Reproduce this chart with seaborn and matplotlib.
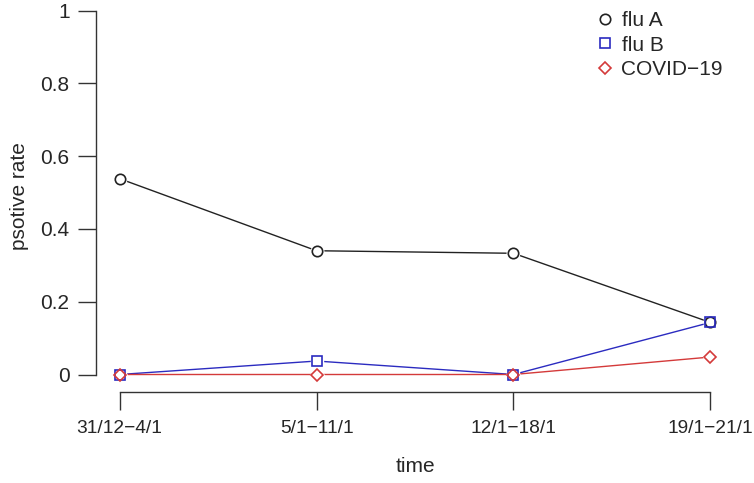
import matplotlib
matplotlib.use("Agg")
import matplotlib.pyplot as plt
from matplotlib.lines import Line2D
import numpy as np
import pandas as pd
import seaborn as sns

# weekly positive rates
periods = ["31/12\u22124/1", "5/1\u221211/1", "12/1\u221218/1", "19/1\u221221/1"]
flu_a = [0.538, 0.340, 0.333, 0.143]
flu_b = [0.0, 0.037, 0.0, 0.143]
covid = [0.0, 0.0, 0.0, 0.048]

names = ["flu A", "flu B", "COVID\u221219"]
colors = {"flu A": "#222222", "flu B": "#2b2bc0", "COVID\u221219": "#d43a3a"}
markers = {"flu A": "o", "flu B": "s", "COVID\u221219": "D"}
msize = {"flu A": 7.5, "flu B": 6.5, "COVID\u221219": 6.0}

rows = []
for name, vals in zip(names, [flu_a, flu_b, covid]):
    for i, v in enumerate(vals):
        rows.append({"x": i + 1, "rate": v, "virus": name})
df = pd.DataFrame(rows)

sns.set_style("ticks")
plt.rcParams["font.family"] = ["Liberation Sans", "DejaVu Sans"]
fs = 15

fig = plt.figure(figsize=(7.54, 4.83), dpi=100)
W, H = 754, 483
ax = fig.add_axes([96 / W, (H - 392) / H, (734 - 96) / W, 392 / H])

sns.lineplot(data=df, x="x", y="rate", hue="virus", palette=colors,
             linewidth=1.0, legend=False, ax=ax, zorder=1)

# white fill to give the line gaps, then hollow outlines on top
for name in names:
    d = df[df["virus"] == name]
    ax.plot(d["x"], d["rate"], linestyle="none", marker=markers[name],
            markersize=msize[name] + 1.5, markerfacecolor="white",
            markeredgecolor="white", zorder=2)
for name in names:
    d = df[df["virus"] == name]
    ax.plot(d["x"], d["rate"], linestyle="none", marker=markers[name],
            markersize=msize[name], markerfacecolor="none",
            markeredgecolor=colors[name], markeredgewidth=1.2, zorder=3)

ax.set_xlim(0.88, 4.12)
ax.set_ylim(-17.5 / 364, 1 + 10.5 / 364)
ax.set_xticks([1, 2, 3, 4])
ax.set_xticklabels(periods, fontsize=13.8)
ax.set_yticks([0, 0.2, 0.4, 0.6, 0.8, 1.0])
ax.set_yticklabels(["0", "0.2", "0.4", "0.6", "0.8", "1"], fontsize=fs)
ax.tick_params(axis="both", length=13, width=1, color="#333333")
ax.tick_params(axis="y", pad=6)
ax.tick_params(axis="x", pad=7)

for s in ["top", "right"]:
    ax.spines[s].set_visible(False)
ax.spines["left"].set_bounds(0, 1)
ax.spines["bottom"].set_bounds(1, 4)
for s in ["left", "bottom"]:
    ax.spines[s].set_color("#333333")
    ax.spines[s].set_linewidth(1)

ax.set_xlabel("time", fontsize=fs)
ax.set_ylabel("psotive rate", fontsize=fs)
ax.xaxis.set_label_coords(0.5, -(457 - 392) / 392)
ax.yaxis.set_label_coords(-(96 - 29) / 638, 0.5)

handles = [Line2D([], [], linestyle="none", marker=markers[n], markersize=msize[n],
                  markerfacecolor="none", markeredgecolor=colors[n],
                  markeredgewidth=1.2, label=n) for n in names]
fig.legend(handles=handles, loc="upper left", bbox_to_anchor=(584 / W, 1 - 3 / H),
           frameon=False, fontsize=fs, handletextpad=0.2, labelspacing=0.26,
           handlelength=1.2, borderaxespad=0)

fig.savefig("out.png", dpi=100)
